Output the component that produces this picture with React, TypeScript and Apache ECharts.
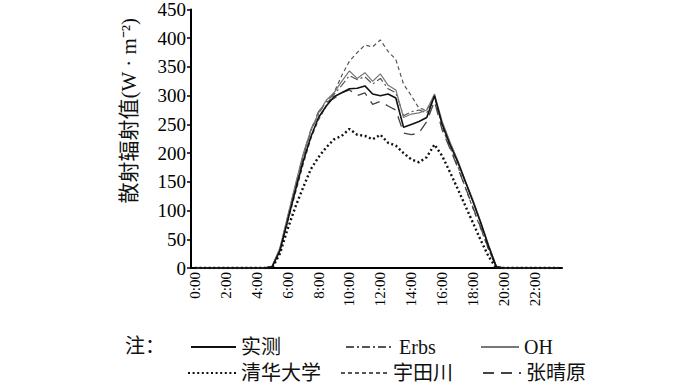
import React, { useEffect, useRef } from "react";
import * as echarts from "echarts";

const times = [
  "0:00","0:30","1:00","1:30","2:00","2:30","3:00","3:30","4:00","4:30",
  "5:00","5:30","6:00","6:30","7:00","7:30","8:00","8:30","9:00","9:30",
  "10:00","10:30","11:00","11:30","12:00","12:30","13:00","13:30","14:00","14:30",
  "15:00","15:30","16:00","16:30","17:00","17:30","18:00","18:30","19:00","19:30",
  "20:00","20:30","21:00","21:30","22:00","22:30","23:00","23:30",
];

const zerosMorning = [0, 0, 0, 0, 0, 0, 0, 0, 0, 0];
const zerosEvening = [0, 0, 0, 0, 0, 0, 0, 0];

const measured = [...zerosMorning,
  2, 30, 82, 135, 185, 228, 262, 282, 298, 305,
  312, 313, 317, 303, 300, 303, 296, 245, 250, 255,
  262, 300, 250, 215, 185, 150, 115, 78, 38, 2,
  ...zerosEvening];

const erbs = [...zerosMorning,
  3, 32, 85, 140, 192, 238, 268, 290, 302, 318,
  335, 328, 333, 320, 330, 312, 305, 265, 272, 275,
  270, 300, 250, 218, 186, 150, 116, 79, 39, 3,
  ...zerosEvening];

const oh = [...zerosMorning,
  3, 35, 90, 145, 198, 240, 270, 292, 305, 325,
  343, 330, 340, 325, 338, 318, 310, 262, 268, 270,
  275, 303, 255, 220, 188, 152, 118, 80, 40, 3,
  ...zerosEvening];

const tsinghua = [...zerosMorning,
  0, 25, 68, 106, 140, 172, 193, 210, 224, 230,
  242, 232, 230, 224, 232, 218, 213, 200, 189, 184,
  193, 215, 195, 167, 138, 108, 78, 48, 20, 0,
  ...zerosEvening];

const udagawa = [...zerosMorning,
  2, 30, 80, 130, 180, 225, 258, 282, 305, 335,
  360, 375, 388, 385, 397, 377, 363, 320, 300, 278,
  275, 300, 245, 210, 178, 140, 103, 68, 32, 1,
  ...zerosEvening];

const zhang = [...zerosMorning,
  3, 33, 88, 142, 195, 240, 272, 288, 295, 305,
  310, 300, 305, 285, 290, 282, 275, 235, 232, 235,
  255, 290, 240, 208, 175, 140, 105, 70, 33, 2,
  ...zerosEvening];

const yTicks = { min: 0, max: 450, interval: 50 };

const SERIF = "'Liberation Serif', 'Times New Roman', 'Noto Sans CJK SC', serif";

export default function App() {
  const ref = useRef<HTMLDivElement>(null);
  useEffect(() => {
    if (!ref.current) return;
    const chart = echarts.init(ref.current, null, { renderer: "svg" });
    const mk = (name: string, data: number[], color: string, width: number, type: any, z = 2) => ({
      name,
      type: "line",
      data,
      symbol: "none",
      showSymbol: false,
      z,
      lineStyle: { color, width, type, cap: "butt" },
      itemStyle: { color },
    });
    const legendCommon = {
      itemHeight: 14,
      textStyle: { fontFamily: SERIF, fontSize: 20, color: "#111" },
      itemStyle: { opacity: 0 },
      selectedMode: false,
      padding: 0,
    };
    chart.setOption({
      animation: false,
      backgroundColor: "#fff",
      grid: { left: 191, right: 138, top: 4, bottom: 119, containLabel: false },
      xAxis: {
        type: "category",
        data: times,
        boundaryGap: true,
        axisLine: { lineStyle: { color: "#000", width: 2 } },
        axisTick: { inside: true, length: 6, interval: 0, alignWithLabel: true, lineStyle: { color: "#000", width: 1 } },
        axisLabel: { interval: 3, rotate: 90, margin: 4, fontFamily: SERIF, fontSize: 15, color: "#000" },
        splitLine: { show: false },
      },
      yAxis: {
        type: "value",
        min: yTicks.min,
        max: yTicks.max,
        interval: yTicks.interval,
        name: "散射辐射值(W · m⁻²)",
        nameLocation: "middle",
        nameGap: 52,
        nameTextStyle: { fontFamily: SERIF, fontSize: 21, color: "#111", padding: [0, 0, 0, 56] },
        axisLine: { show: true, lineStyle: { color: "#000", width: 2 } },
        axisTick: { show: true, length: 4, lineStyle: { color: "#000", width: 1.5 } },
        axisLabel: { margin: 5, fontFamily: SERIF, fontSize: 19, color: "#000" },
        splitLine: { show: false },
      },
      legend: [
        { ...legendCommon, data: ["实测"], left: 190, top: 337, itemWidth: 45 },
        { ...legendCommon, data: ["Erbs"], left: 345, top: 337, itemWidth: 48 },
        { ...legendCommon, data: ["OH"], left: 480, top: 337, itemWidth: 38 },
        { ...legendCommon, data: ["清华大学"], left: 187, top: 363, itemWidth: 48 },
        { ...legendCommon, data: ["宇田川"], left: 340, top: 363, itemWidth: 47 },
        { ...legendCommon, data: ["张晴原"], left: 482, top: 363, itemWidth: 38 },
      ],
      graphic: [
        {
          type: "text",
          left: 125,
          top: 336,
          style: { text: "注：", font: `20px ${SERIF}`, fill: "#111" },
        },
      ],
      series: [
        mk("实测", measured, "#111", 1.6, "solid", 5),
        mk("Erbs", erbs, "#555", 1.2, [8, 3, 2, 3], 3),
        mk("OH", oh, "#777", 1.2, "solid", 4),
        mk("清华大学", tsinghua, "#111", 2.4, [2, 2.6], 6),
        mk("宇田川", udagawa, "#555", 1.2, [4, 3], 3),
        mk("张晴原", zhang, "#444", 1.3, [11, 7], 3),
      ],
    });
    return () => chart.dispose();
  }, []);
  return <div ref={ref} style={{ width: 700, height: 387, position: "absolute", left: 0, top: 0 }} />;
}
